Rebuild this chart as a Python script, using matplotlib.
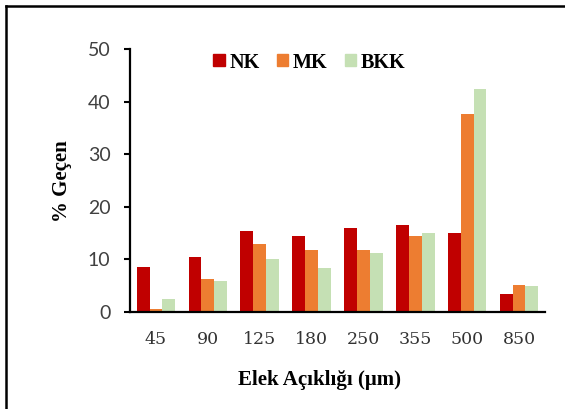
import numpy as np
import matplotlib
matplotlib.use("Agg")
import matplotlib.pyplot as plt
from matplotlib.lines import Line2D
from matplotlib.patches import Patch

# sieve sizes and % passing
sizes = ["45", "90", "125", "180", "250", "355", "500", "850"]
nk = [8.6, 10.5, 15.4, 14.5, 15.9, 16.5, 15.0, 3.4]
mk = [0.6, 6.2, 12.9, 11.75, 11.75, 14.4, 37.6, 5.1]
bkk = [2.35, 5.8, 10.0, 8.3, 11.2, 15.0, 42.4, 4.9]

series = ["NK", "MK", "BKK"]
colors = ["#C00000", "#ED7D31", "#C5E0B4"]

W, H = 565, 409
fig = plt.figure(figsize=(W / 100, H / 100), dpi=100)
ax = fig.add_axes([130 / W, 1 - 311.7 / H, 415 / W, 262.4 / H])

x = np.arange(len(sizes))
bw = 0.247
for i, (vals, c) in enumerate(zip([nk, mk, bkk], colors)):
    ax.bar(x + (i - 1) * bw, vals, bw, color=c, label=series[i])

ax.set_xlim(-0.5, len(sizes) - 0.5)
ax.set_ylim(0, 50)
ax.set_yticks(range(0, 51, 10))
ax.set_xticks(x)
ax.set_xticklabels(sizes, family="DejaVu Serif", fontsize=12.5, color="#333333")
for lab in ax.get_yticklabels():
    lab.set_family("Lato")
    lab.set_fontsize(14)
    lab.set_color("#404040")

for s in ["top", "right"]:
    ax.spines[s].set_visible(False)
for s in ["left", "bottom"]:
    ax.spines[s].set_linewidth(1.6)
ax.tick_params(axis="x", length=0, pad=14)
ax.tick_params(axis="y", length=4, width=1.5, pad=10, direction="out")

bold = {"family": "Liberation Serif", "weight": "bold", "size": 15}
fig.text(62 / W, 1 - 181 / H, "% Geçen", rotation=90, ha="center", va="center",
         fontdict=bold)
fig.text(320 / W, 1 - 380 / H, "Elek Açıklığı (μm)", ha="center", va="center",
         fontdict=bold)

handles = [Patch(color=c) for c in colors]
fig.legend(handles, series, loc="center", bbox_to_anchor=(309.5 / W, 1 - 62.5 / H),
           ncol=3, frameon=False, handlelength=0.55, handleheight=0.55,
           handletextpad=0.25, columnspacing=0.85,
           prop={"family": "Liberation Serif", "weight": "bold", "size": 14.5})

# outer frame (only left and top edges fall inside the image)
fig.add_artist(Line2D([6 / W, 6 / W], [0, 1 - 6 / H], color="black", lw=1.8))
fig.add_artist(Line2D([6 / W, 1], [1 - 6 / H, 1 - 6 / H], color="black", lw=1.8))

fig.savefig("out.png", dpi=100)
